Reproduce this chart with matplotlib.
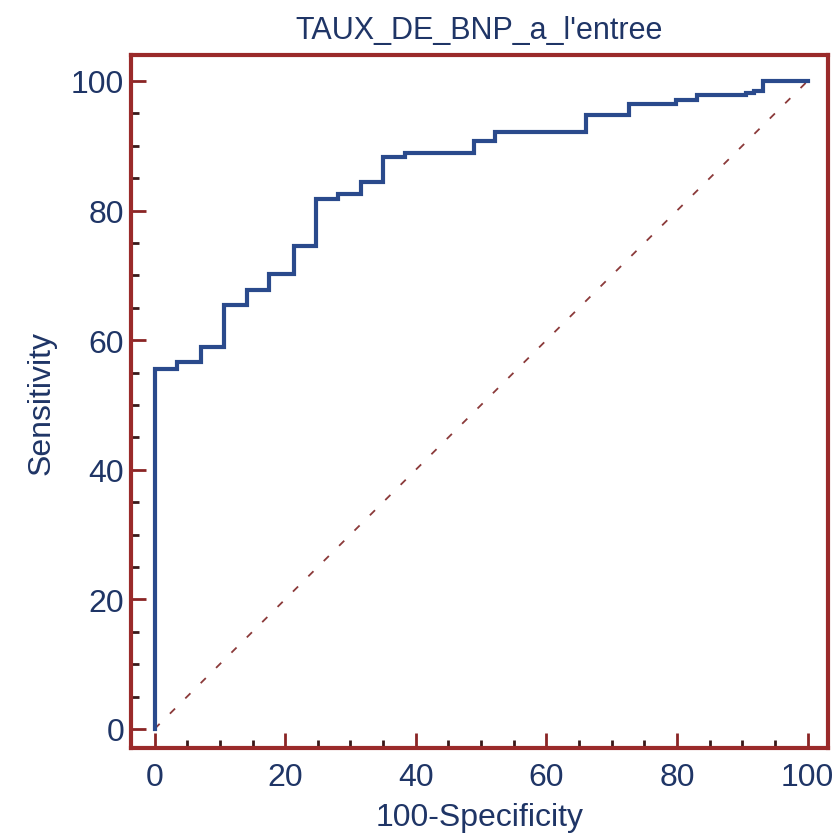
import matplotlib
matplotlib.use("Agg")
import matplotlib.pyplot as plt
from matplotlib.ticker import MultipleLocator

# ROC curve corners: false positive fraction (100-Specificity) and sensitivity, in %
fpr = [0.0, 0.0, 3.4, 7.1, 10.6, 14.2, 17.6, 21.3, 24.7, 28.1, 31.6, 35.0, 38.4,
       48.9, 52.1, 66.1, 72.7, 79.8, 83.1, 90.5, 91.8, 93.2, 100.0]
tpr = [0.0, 55.6, 56.7, 59.0, 65.4, 67.8, 70.2, 74.6, 81.8, 82.5, 84.4, 88.3, 88.9,
       90.8, 92.1, 94.7, 96.4, 97.1, 97.8, 98.1, 98.4, 100.0, 100.0]

# reference diagonal (no discrimination)
diag_x = [0, 100]
diag_y = [0, 100]

title = "TAUX_DE_BNP_a_l'entree"
xlabel = "100-Specificity"
ylabel = "Sensitivity"
ticks = [0, 20, 40, 60, 80, 100]

text_col = "#1f3566"
frame_col = "#9a2a2a"
curve_col = "#2a4a8c"

plt.rcParams['font.family'] = ['Liberation Sans', 'DejaVu Sans']

fig = plt.figure(figsize=(8.35, 8.37), dpi=100)
ax = fig.add_axes([0.1569, 0.1047, 0.8347, 0.8284])

ax.plot(diag_x, diag_y, color="#8b3a3a", lw=1.3, linestyle=(0, (4, 8)))
ax.step(fpr, tpr, where='post', color=curve_col, lw=3.0, solid_joinstyle='miter')

ax.set_xlim(-3.6, 103.1)
ax.set_ylim(-3.0, 104.0)
ax.set_xticks(ticks)
ax.set_yticks(ticks)
ax.xaxis.set_minor_locator(MultipleLocator(5))
ax.yaxis.set_minor_locator(MultipleLocator(5))

for s in ax.spines.values():
    s.set_color(frame_col)
    s.set_linewidth(3.0)

ax.tick_params(which='major', direction='in', length=11, width=2.0,
               color="#8a2525", labelcolor=text_col, labelsize=23)
ax.tick_params(which='minor', direction='in', length=6, width=2.0,
               color="#3a1a1a")
ax.tick_params(axis='x', which='major', pad=10)
ax.tick_params(axis='y', which='major', pad=5)

ax.set_title(title, color=text_col, fontsize=22, pad=12)
ax.set_xlabel(xlabel, color=text_col, fontsize=23, labelpad=7)
ax.set_ylabel(ylabel, color=text_col, fontsize=23, labelpad=10)

fig.savefig("out.png", dpi=100, facecolor="white")
